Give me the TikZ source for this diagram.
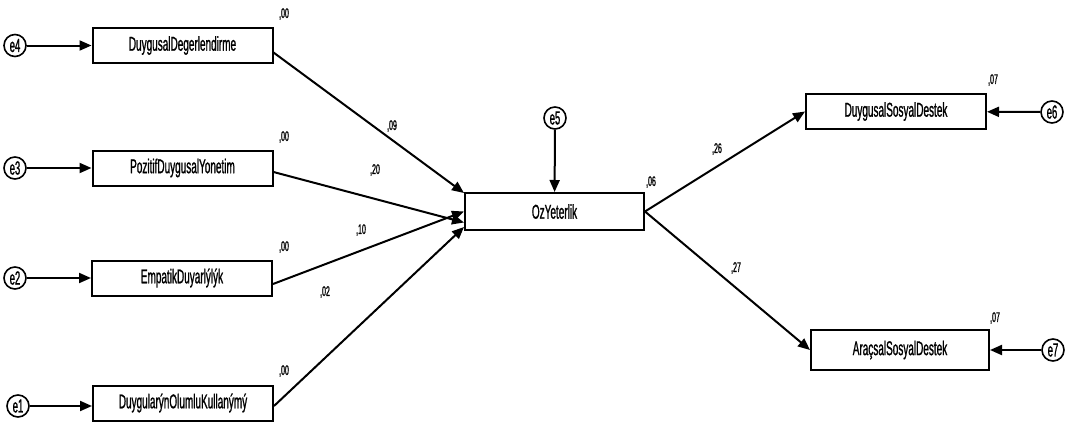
\documentclass[tikz,border=0pt]{standalone}
\usepackage{fontspec}
\setmainfont{Liberation Sans}[FakeStretch=0.5,FakeBold=1]
\usetikzlibrary{arrows.meta}
\begin{document}
\begin{tikzpicture}[x=1pt,y=-1pt,
  obs/.style={draw,line width=2pt,minimum width=180pt,minimum height=35pt,inner sep=0pt,font=\fontsize{20}{22}\selectfont},
  err/.style={draw,circle,line width=1.6pt,minimum size=22pt,inner sep=0pt,font=\fontsize{19}{21}\selectfont},
  path/.style={line width=2pt,-{Triangle[length=12pt,width=10pt]}},
  coef/.style={font=\fontsize{14}{16}\selectfont,inner sep=0pt}]
\useasboundingbox (0,0) rectangle (1068,423);
% observed variables, left column
\node[obs] (dd) at (182.5,45.5) {DuygusalDegerlendirme};
\node[obs] (pd) at (182.5,168) {PozitifDuygusalYonetim};
\node[obs] (ed) at (182,278) {EmpatikDuyarlýlýk};
\node[obs] (do) at (183,403) {DuygularýnOlumluKullanýmý};
% mediator
\node[obs,minimum width=179pt,minimum height=37pt] (oz) at (554.5,211.5) {OzYeterlik};
% outcomes
\node[obs] (ds) at (896,111.5) {DuygusalSosyalDestek};
\node[obs,minimum width=178pt,minimum height=40pt] (as) at (900,350) {AraçsalSosyalDestek};
% error terms
\node[err] (e4) at (15,45.5) {e4};
\node[err] (e3) at (15,168) {e3};
\node[err] (e2) at (15,278) {e2};
\node[err] (e1) at (18,406) {e1};
\node[err] (e5) at (555,118) {e5};
\node[err] (e6) at (1052,112) {e6};
\node[err] (e7) at (1053,350) {e7};
% error paths
\draw[path] (e4) -- (dd);
\draw[path] (e3) -- (pd);
\draw[path] (e2) -- (ed);
\draw[path] (e1) -- (do.west |- e1);
\draw[path] (e5) -- (oz);
\draw[path] (e6) -- (ds);
\draw[path] (e7) -- (as);
% structural paths
\coordinate (t1) at ([yshift=-1pt]oz.north west);
\coordinate (t2) at ([yshift=-11pt]oz.west);
\coordinate (t3) at ([yshift=0pt]oz.west);
\coordinate (t4) at ([yshift=4pt]oz.south west);
\draw[path] ([yshift=-7pt]dd.east) -- (t1);
\draw[path] ([yshift=-4pt]pd.east) -- (t2);
\draw[path] ([yshift=-6pt]ed.east) -- (t3);
\draw[path] ([yshift=-3pt]do.east) -- (t4);
\draw[path] (oz.east) -- (ds.west);
\draw[path] (oz.east) -- (as.west);
% coefficients
\node[coef] (c1) at (284,14) {,00};
\node[coef] (c2) at (284,137) {,00};
\node[coef] (c3) at (284,247) {,00};
\node[coef] (c4) at (284,371) {,00};
\node[coef] (c5) at (392,126) {,09};
\node[coef] (c6) at (375,170) {,20};
\node[coef] (c7) at (361,230) {,10};
\node[coef] (c8) at (325,292) {,02};
\node[coef] (c9) at (651,182) {,06};
\node[coef] (c10) at (717,149) {,26};
\node[coef] (c11) at (736,268) {,27};
\node[coef] (c12) at (993,80) {,07};
\node[coef] (c13) at (995,318) {,07};
\end{tikzpicture}
\end{document}
